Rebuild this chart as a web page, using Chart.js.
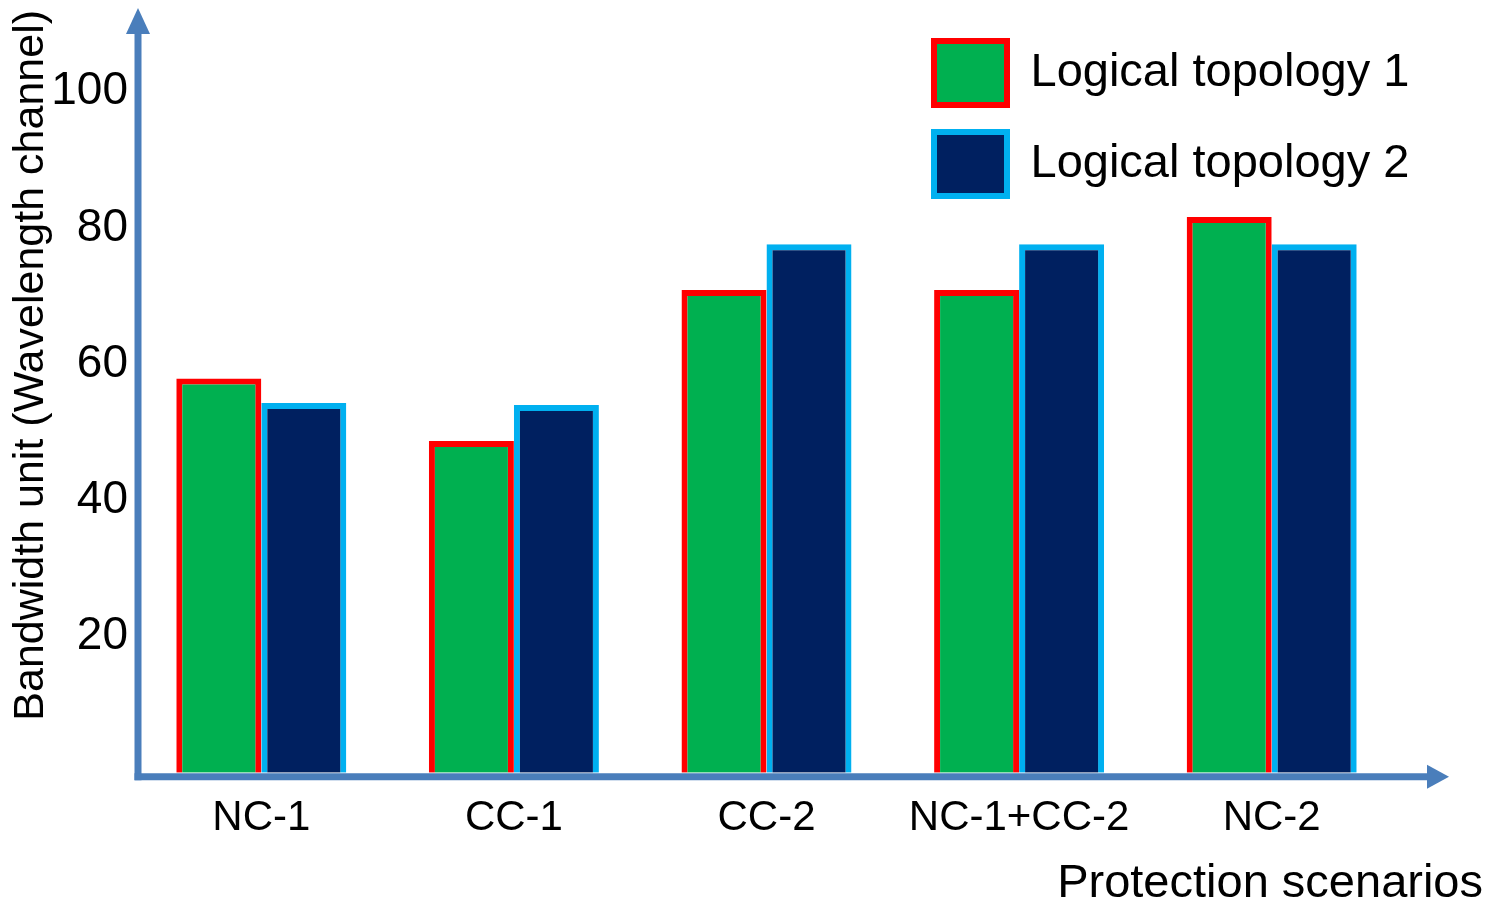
<!DOCTYPE html>
<html>
<head>
<meta charset="utf-8">
<title>Bandwidth unit by protection scenario</title>
<script src="https://cdn.jsdelivr.net/npm/chart.js@4/dist/chart.umd.min.js"></script>
<style>
  html, body { margin: 0; padding: 0; background: #fff; }
  #wrap { width: 1489px; height: 905px; position: relative; }
</style>
</head>
<body>
<div id="wrap"><canvas id="myChart"></canvas></div>
<script>
// data
const categories = ['NC-1', 'CC-1', 'CC-2', 'NC-1+CC-2', 'NC-2'];
const seriesNames = ['Logical topology 1', 'Logical topology 2'];
const topology1 = [57.9, 48.7, 70.9, 70.9, 81.6];
const topology2 = [54.3, 54.0, 77.6, 77.6, 77.6];
const yTicks = [20, 40, 60, 80, 100];

const axisColor = '#4a7ebb';

Chart.defaults.font.family = "'Liberation Sans', Arial, sans-serif";
Chart.defaults.color = '#000';

// blue axis lines with arrow heads
const axisArrows = {
    id: 'axisArrows',
    afterDraw(chart) {
        const { ctx, chartArea: a } = chart;
        const x0 = a.left + 3;
        const y0 = a.bottom + 4;
        ctx.save();
        ctx.strokeStyle = axisColor;
        ctx.fillStyle = axisColor;
        ctx.lineWidth = 7;
        ctx.beginPath();
        ctx.moveTo(x0, y0 + 3.5);
        ctx.lineTo(x0, a.top + 22);
        ctx.stroke();
        ctx.beginPath();
        ctx.moveTo(x0 - 12, a.top + 24);
        ctx.lineTo(x0, a.top - 2);
        ctx.lineTo(x0 + 12, a.top + 24);
        ctx.closePath();
        ctx.fill();
        ctx.beginPath();
        ctx.moveTo(x0 - 3.5, y0);
        ctx.lineTo(a.right + 31, y0);
        ctx.stroke();
        ctx.beginPath();
        ctx.moveTo(a.right + 29, y0 - 12);
        ctx.lineTo(a.right + 51, y0);
        ctx.lineTo(a.right + 29, y0 + 12);
        ctx.closePath();
        ctx.fill();
        ctx.restore();
    }
};

// move the legend to the upper right of the plot
const legendPlace = {
    id: 'legendPlace',
    afterLayout(chart) {
        const l = chart.legend;
        const a = chart.chartArea;
        l.left = a.right - 491;
        l.right = l.left + l.width;
        l.top = a.top + 4;
        l.bottom = l.top + 300;
    }
};

const ctx = document.getElementById('myChart');
new Chart(ctx, {
    type: 'bar',
    data: {
        labels: categories,
        datasets: [
            { label: seriesNames[0], data: topology1, backgroundColor: '#00b050', borderColor: '#ff0000', borderWidth: 6, yAxisID: 'y' },
            { label: seriesNames[1], data: topology2, backgroundColor: '#002060', borderColor: '#00b0f0', borderWidth: 6, yAxisID: 'y' }
        ]
    },
    options: {
        responsive: true,
        maintainAspectRatio: false,
        animation: false,
        layout: { padding: { top: 10, right: 6, left: 0, bottom: 0 } },
        datasets: { bar: { categoryPercentage: 0.673, barPercentage: 1.0 } },
        plugins: {
            tooltip: { enabled: false },
            legend: {
                position: 'chartArea',
                align: 'start',
                labels: { font: { size: 47 }, boxWidth: 73, boxHeight: 64, padding: 27, color: '#000' }
            },
            title: {
                display: true,
                position: 'bottom',
                align: 'end',
                text: 'Protection scenarios',
                color: '#000',
                font: { size: 47, weight: 'normal', lineHeight: 0.9 },
                padding: { top: 30, bottom: 0 }
            }
        },
        scales: {
            x: {
                grid: { display: false, drawTicks: false },
                border: { display: false },
                ticks: { font: { size: 42, lineHeight: 1 }, padding: 24.5, maxRotation: 0, autoSkip: false },
                afterFit(s) { s.height = 60; }
            },
            y: {
                min: 0,
                max: 112,
                grid: { display: false, drawTicks: false },
                border: { display: false },
                ticks: {
                    stepSize: 20,
                    font: { size: 46 },
                    padding: 7,
                    callback: v => yTicks.includes(v) ? v : ''
                },
                title: {
                    display: true,
                    text: 'Bandwidth unit (Wavelength channel)',
                    align: 'end',
                    font: { size: 43 },
                    padding: { top: 5, bottom: 0 }
                },
                afterFit(s) {
                    s.width = 135;
                    s.paddingTop = 0;
                    s.paddingBottom = 0;
                }
            },
            y2: {
                position: 'right',
                grid: { display: false, drawTicks: false },
                border: { display: false },
                ticks: { display: false },
                afterFit(s) { s.width = 85; }
            }
        }
    },
    plugins: [axisArrows, legendPlace]
});
</script>
</body>
</html>
